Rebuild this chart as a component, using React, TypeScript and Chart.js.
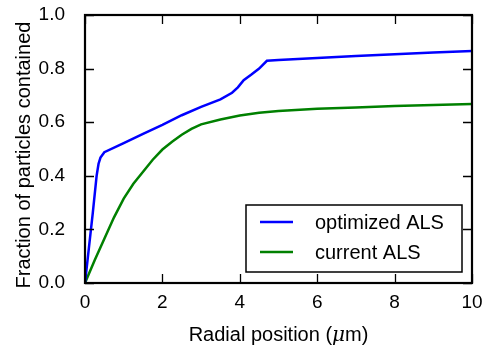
import React, { useEffect, useRef } from "react";
import { Chart, registerables } from "chart.js";

Chart.register(...registerables);

// Cumulative fraction of particles inside a given radius
const optimizedX = [0, 0.1, 0.2, 0.3, 0.35, 0.4, 0.5, 1.0, 1.5, 2.0, 2.5, 3.0, 3.5, 3.8, 3.95, 4.1, 4.3, 4.5, 4.7, 5.0, 6.0, 7.0, 8.0, 9.0, 10.0];
const optimizedY = [0, 0.13, 0.26, 0.4, 0.445, 0.468, 0.488, 0.522, 0.556, 0.59, 0.626, 0.657, 0.685, 0.71, 0.73, 0.757, 0.778, 0.8, 0.829, 0.832, 0.84, 0.847, 0.854, 0.86, 0.866];

const currentX = [0, 0.25, 0.5, 0.75, 1.0, 1.25, 1.5, 1.75, 2.0, 2.25, 2.5, 2.75, 3.0, 3.5, 4.0, 4.5, 5.0, 6.0, 7.0, 8.0, 9.0, 10.0];
const currentY = [0, 0.085, 0.165, 0.245, 0.315, 0.37, 0.415, 0.46, 0.498, 0.527, 0.553, 0.575, 0.592, 0.61, 0.625, 0.635, 0.642, 0.65, 0.655, 0.66, 0.664, 0.668];

const seriesLabels = ["optimized ALS", "current ALS"];
const seriesColors = ["#0000ff", "#008000"];

const xTitleParts = [
  { text: "Radial position (", italic: false },
  { text: "μ", italic: true },
  { text: "m)", italic: false },
];
const yTitle = "Fraction of particles contained";

const FONT = "'Liberation Sans', Arial, sans-serif";

// Spines, inward ticks on all four sides, axis titles and the boxed legend
const framePlugin = {
  id: "frame",
  afterDraw(chart: any) {
    const { ctx, chartArea: a, scales } = chart;
    const xs = scales.x;
    const ys = scales.y;
    ctx.save();
    ctx.strokeStyle = "#000";
    ctx.lineWidth = 1.3;
    const tl = 9;
    xs.ticks.forEach((t: any) => {
      const px = Math.round(xs.getPixelForValue(t.value)) + 0.5;
      ctx.beginPath();
      ctx.moveTo(px, a.bottom);
      ctx.lineTo(px, a.bottom - tl);
      ctx.moveTo(px, a.top);
      ctx.lineTo(px, a.top + tl);
      ctx.stroke();
    });
    ys.ticks.forEach((t: any) => {
      const py = Math.round(ys.getPixelForValue(t.value)) + 0.5;
      ctx.beginPath();
      ctx.moveTo(a.left, py);
      ctx.lineTo(a.left + tl, py);
      ctx.moveTo(a.right, py);
      ctx.lineTo(a.right - tl, py);
      ctx.stroke();
    });
    ctx.lineWidth = 2.2;
    ctx.strokeRect(a.left, a.top, a.right - a.left, a.bottom - a.top);

    // x axis title with an italic mu
    const size = 20;
    const fonts = xTitleParts.map((p) => `${p.italic ? "italic " : ""}${size}px ${p.italic ? "'DejaVu Serif', serif" : FONT}`);
    let total = 0;
    const widths = xTitleParts.map((p, i) => {
      ctx.font = fonts[i];
      const w = ctx.measureText(p.text).width;
      total += w;
      return w;
    });
    let cx = (a.left + a.right) / 2 - total / 2;
    ctx.fillStyle = "#000";
    ctx.textBaseline = "alphabetic";
    ctx.textAlign = "left";
    xTitleParts.forEach((p, i) => {
      ctx.font = fonts[i];
      ctx.fillText(p.text, cx, 341);
      cx += widths[i];
    });

    // y axis title, rotated
    ctx.save();
    ctx.translate(24.5, (a.top + a.bottom) / 2 + 6);
    ctx.rotate(-Math.PI / 2);
    ctx.font = `20px ${FONT}`;
    ctx.textAlign = "center";
    ctx.textBaseline = "middle";
    ctx.fillText(yTitle, 0, 0);
    ctx.restore();

    // legend box in the lower right
    const bx = 246, by = 205, bw = 216, bh = 67;
    ctx.fillStyle = "#fff";
    ctx.fillRect(bx, by, bw, bh);
    ctx.lineWidth = 1.5;
    ctx.strokeStyle = "#000";
    ctx.strokeRect(bx, by, bw, bh);
    chart.data.datasets.forEach((ds: any, i: number) => {
      const ly = by + 17 + i * 30;
      ctx.strokeStyle = ds.borderColor;
      ctx.lineWidth = 2.5;
      ctx.beginPath();
      ctx.moveTo(bx + 14, ly);
      ctx.lineTo(bx + 47, ly);
      ctx.stroke();
      ctx.fillStyle = "#000";
      ctx.font = `20px ${FONT}`;
      ctx.textAlign = "left";
      ctx.textBaseline = "middle";
      ctx.fillText(ds.label, bx + 69, ly + 1);
    });
    ctx.restore();
  },
};

const clearScalePadding = (s: any) => {
  s.paddingTop = 0;
  s.paddingBottom = 0;
  s.paddingLeft = 0;
  s.paddingRight = 0;
};

export default function App() {
  const canvasRef = useRef<HTMLCanvasElement | null>(null);

  useEffect(() => {
    document.body.style.margin = "0";
    const canvas = canvasRef.current;
    if (!canvas) return;
    const toPoints = (xs: number[], ys: number[]) => xs.map((x, i) => ({ x, y: ys[i] }));
    const chart = new Chart(canvas, {
      type: "line",
      data: {
        datasets: [
          {
            label: seriesLabels[0],
            data: toPoints(optimizedX, optimizedY),
            borderColor: seriesColors[0],
            backgroundColor: seriesColors[0],
            borderWidth: 2.5,
            pointRadius: 0,
            tension: 0,
          },
          {
            label: seriesLabels[1],
            data: toPoints(currentX, currentY),
            borderColor: seriesColors[1],
            backgroundColor: seriesColors[1],
            borderWidth: 2.5,
            pointRadius: 0,
            tension: 0,
          },
        ],
      },
      options: {
        animation: false,
        responsive: false,
        maintainAspectRatio: false,
        layout: { padding: { top: 15, right: 11, left: 0, bottom: 0 } },
        plugins: { legend: { display: false }, tooltip: { enabled: false } },
        scales: {
          x: {
            type: "linear",
            min: 0,
            max: 10,
            grid: { display: false },
            border: { display: false },
            ticks: {
              stepSize: 2,
              padding: 0,
              color: "#000",
              font: { family: FONT, size: 19 },
              maxRotation: 0,
            },
            afterFit: (s: any) => {
              s.height = 68;
              clearScalePadding(s);
            },
          },
          y: {
            min: 0,
            max: 1,
            grid: { display: false },
            border: { display: false },
            ticks: {
              stepSize: 0.2,
              padding: 12,
              color: "#000",
              font: { family: FONT, size: 19 },
              callback: (v: any) => Number(v).toFixed(1),
            },
            afterFit: (s: any) => {
              s.width = 85;
              clearScalePadding(s);
            },
          },
        },
      },
      plugins: [framePlugin],
    });
    return () => chart.destroy();
  }, []);

  return (
    <div style={{ width: 483, height: 351, background: "#fff" }}>
      <canvas ref={canvasRef} width={483} height={351} />
    </div>
  );
}
